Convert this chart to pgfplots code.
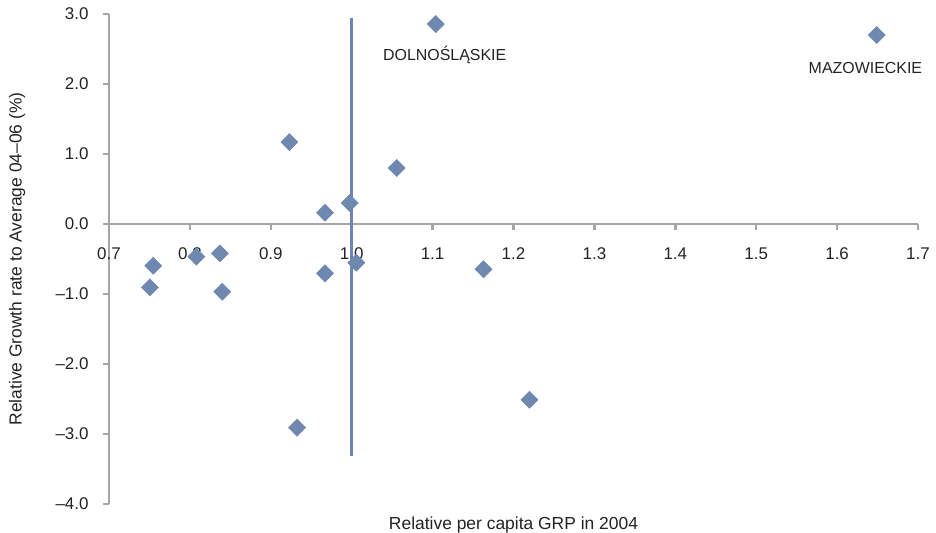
\documentclass[border=0pt]{standalone}
\usepackage{pgfplots}
\pgfplotsset{compat=1.18}
\usepackage{fontspec}
\setmainfont{Liberation Sans}
\definecolor{pt}{RGB}{111,136,175}
\definecolor{vl}{RGB}{108,134,176}
\definecolor{ax}{RGB}{166,166,166}
\definecolor{tx}{RGB}{35,35,35}
\begin{document}
\begin{tikzpicture}
\useasboundingbox (-109bp,-29bp) rectangle (827bp,504bp);
\begin{axis}[
  at={(0,0)}, anchor=south west,
  scale only axis, width=809bp, height=490bp,
  xmin=0.7, xmax=1.7, ymin=-4, ymax=3,
  axis x line=middle, axis y line=left,
  axis line style={ax, line width=2.4bp, -},
  every tick/.style={ax, line width=2.4bp},
  major tick length=6bp,
  tick align=outside,
  hide obscured x ticks=false, hide obscured y ticks=false,
  xtick={0.7,0.8,0.9,1.0,1.1,1.2,1.3,1.4,1.5,1.6,1.7},
  xticklabels={0.7,0.8,0.9,1.0,1.1,1.2,1.3,1.4,1.5,1.6,1.7},
  ytick={-4,-3,-2,-1,0,1,2,3},
  yticklabels={–4.0,–3.0,–2.0,–1.0,0.0,1.0,2.0,3.0},
  tick label style={font=\fontsize{17}{20}\selectfont, text=tx},
  xticklabel style={yshift=-14bp},
  yticklabel style={xshift=-11bp},
  label style={font=\fontsize{17.5}{20}\selectfont, text=tx},
  xlabel={Relative per capita GRP in 2004},
  xlabel style={at={(axis description cs:0.5,0)}, anchor=north, yshift=-9bp},
  ylabel={Relative Growth rate to Average 04–06 (\%)},
  ylabel style={at={(axis description cs:0,0.5)}, anchor=center, yshift=92bp},
  clip=false,
]
\addplot[vl, line width=3bp, no marks] coordinates {(1.0,-3.31) (1.0,2.94)};
\addplot[only marks, mark=square*, mark size=6.1bp, mark options={rotate=45, fill=pt, draw=pt}] table {
x y
1.104 2.857
1.649 2.70
0.923 1.17
1.0556 0.80
0.9975 0.30
0.967 0.16
0.7547 -0.596
0.808 -0.467
0.837 -0.42
0.7506 -0.905
0.840 -0.967
0.967 -0.705
1.0057 -0.553
1.163 -0.647
1.2198 -2.51
0.9325 -2.91
};
\node[font=\fontsize{16}{19}\selectfont, text=tx] at (axis cs:1.115,2.41) {DOLNOŚLĄSKIE};
\node[font=\fontsize{16}{19}\selectfont, text=tx] at (axis cs:1.635,2.23) {MAZOWIECKIE};
\end{axis}
\end{tikzpicture}
\end{document}
